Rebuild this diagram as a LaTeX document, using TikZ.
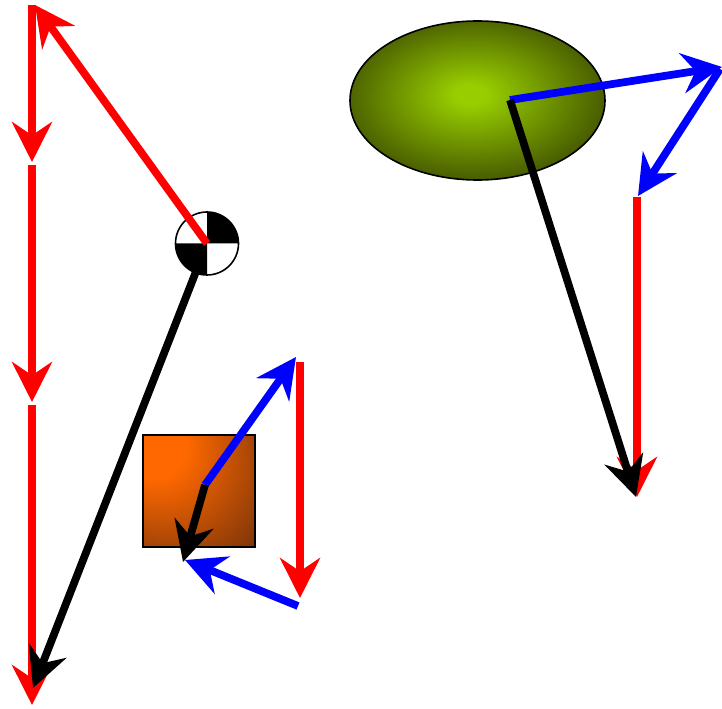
\documentclass[tikz,border=0pt]{standalone}
\usetikzlibrary{arrows.meta}
\definecolor{vred}{RGB}{255,0,0}
\definecolor{vblue}{RGB}{0,0,255}
\definecolor{orgA}{RGB}{255,104,0}
\definecolor{orgB}{RGB}{112,48,10}
\definecolor{grnA}{RGB}{152,206,0}
\definecolor{grnB}{RGB}{72,92,0}
\pgfdeclareradialshading{sqshade}{\pgfpoint{-24bp}{24bp}}{color(0bp)=(orgA); color(14bp)=(orgA); color(52bp)=(orgB); color(80bp)=(orgB)}
\pgfdeclareradialshading{ellshade}{\pgfpoint{-1.5bp}{2bp}}{color(0bp)=(grnA); color(3bp)=(grnA); color(26bp)=(grnB); color(50bp)=(grnB)}
\tikzset{
  vec/.style={line width=5.8pt, -{Stealth[length=30pt,width=30pt,inset=10pt]}},
  redvec/.style={vec, draw=vred},
  bluevec/.style={vec, draw=vblue},
  blackvec/.style={vec, draw=black},
  body/.style={draw=black, line width=1.2pt},
}
\begin{document}
\begin{tikzpicture}[x=0.75pt,y=0.75pt]
\useasboundingbox (0,0) rectangle (722,708);
% ---------- left group ----------
\coordinate (r1a) at (32,703);
\coordinate (r1b) at (32,546);
\coordinate (r2a) at (32,543);
\coordinate (r2b) at (32,306);
\coordinate (r3a) at (32,303);
\coordinate (r3b) at (32,3);
\coordinate (cg) at (207,464.5);
\coordinate (rtop) at (35,703);
\coordinate (blow) at (33,20);
\draw[redvec] (r1a) -- (r1b);
\draw[redvec] (r2a) -- (r2b);
\draw[redvec] (r3a) -- (r3b);
\draw[blackvec] (cg) -- (blow);
% centre of gravity symbol
\fill[white] (cg) circle[radius=31.5];
\fill[black] (cg) -- ++(0,31.5) arc[start angle=90,end angle=0,radius=31.5] -- cycle;
\fill[black] (cg) -- ++(0,-31.5) arc[start angle=270,end angle=180,radius=31.5] -- cycle;
\draw[body] (cg) circle[radius=31.5];
\draw[redvec] (cg) -- (rtop);
% ---------- square group ----------
\coordinate (sqa) at (143,273);
\coordinate (sqb) at (255,161);
\coordinate (so) at (205,223);
\coordinate (sblue) at (296,351);
\coordinate (sblack) at (183,146);
\coordinate (sra) at (300,346);
\coordinate (srb) at (300,110);
\coordinate (sba) at (298,102);
\coordinate (sbb) at (185,148);
\shade[shading=sqshade] (sqa) rectangle (sqb);
\draw[body] (sqa) rectangle (sqb);
\draw[bluevec] (so) -- (sblue);
\draw[blackvec] (so) -- (sblack);
\draw[redvec] (sra) -- (srb);
\draw[bluevec] (sba) -- (sbb);
% ---------- ellipse group ----------
\coordinate (ec) at (477.5,607.5);
\coordinate (eo) at (510,608);
\coordinate (eb1) at (722,641);
\coordinate (eb2a) at (720,639);
\coordinate (eb2b) at (638,512);
\coordinate (era) at (637,511);
\coordinate (erb) at (637,211);
\coordinate (ebk) at (636,211);
\shade[shading=ellshade] (ec) ellipse[x radius=127.5,y radius=79.5];
\draw[body] (ec) ellipse[x radius=127.5,y radius=79.5];
\draw[bluevec] (eo) -- (eb1);
\draw[bluevec] (eb2a) -- (eb2b);
\draw[redvec] (era) -- (erb);
\draw[blackvec] (eo) -- (ebk);
\end{tikzpicture}
\end{document}
